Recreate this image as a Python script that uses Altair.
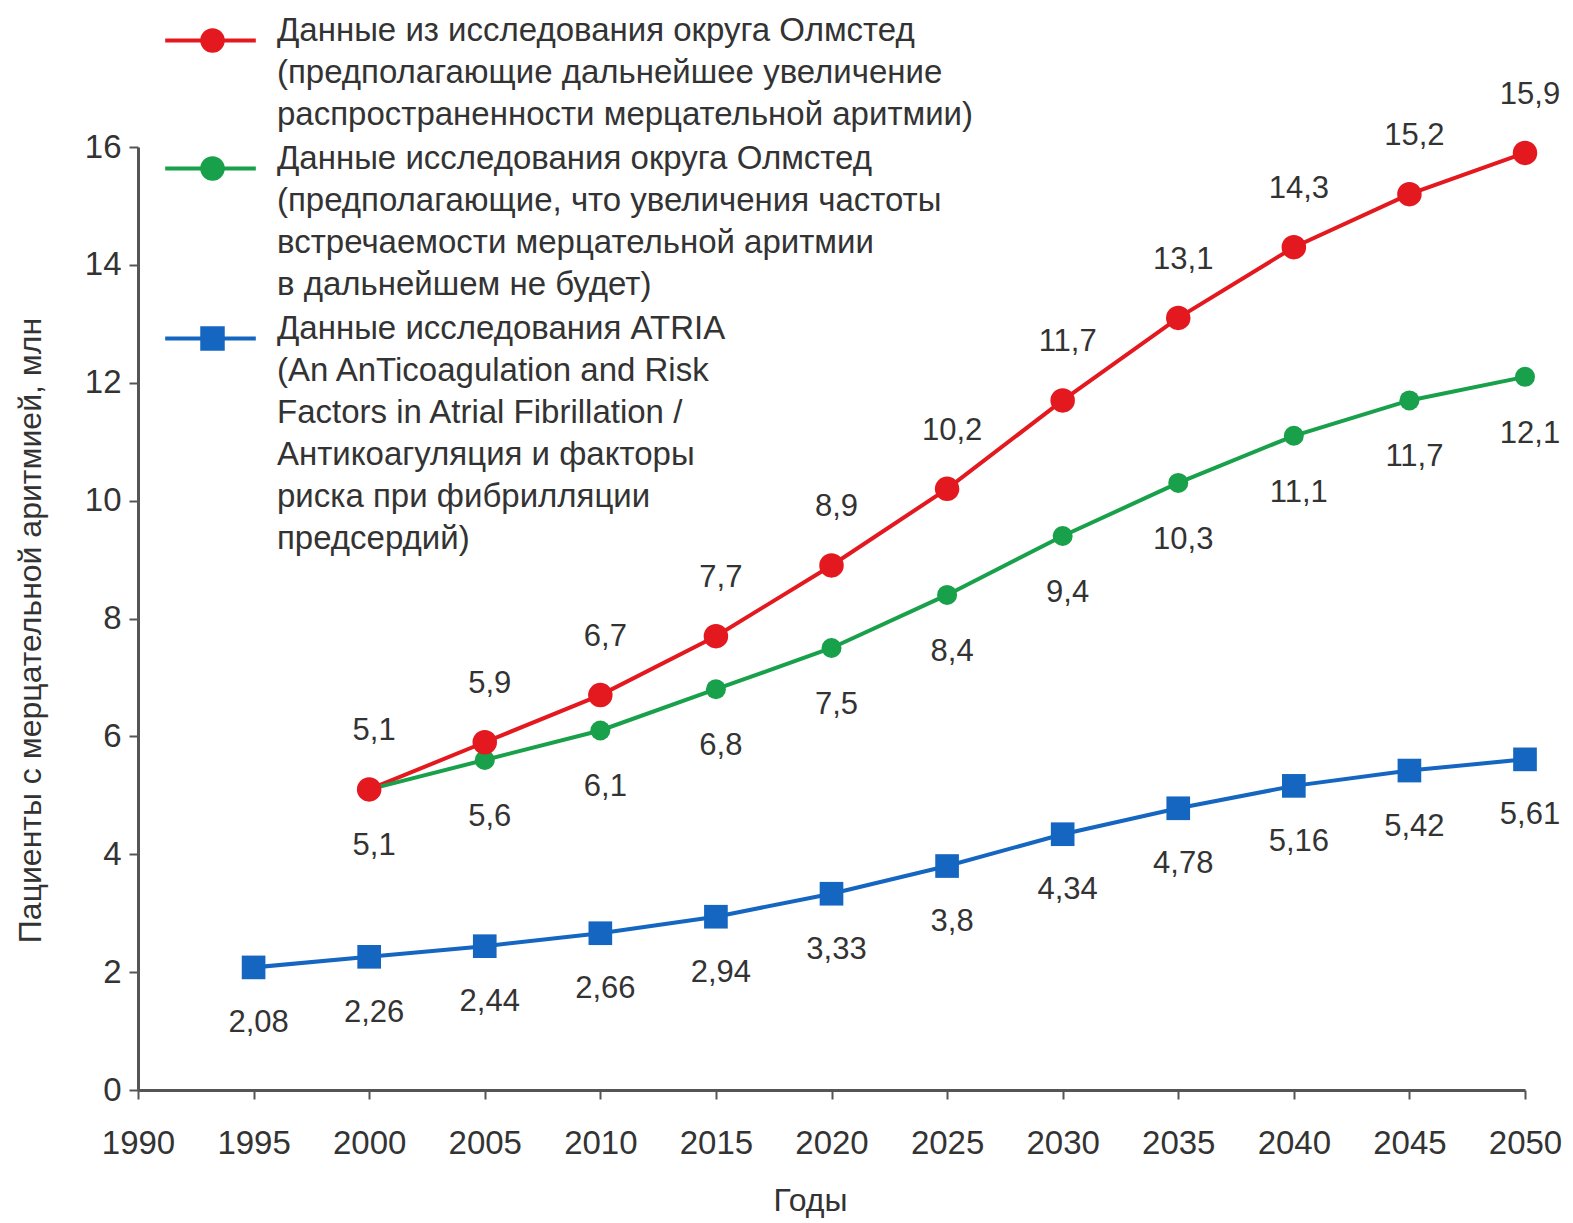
import altair as alt
import pandas as pd

# ---- data ----
years_atria = [1995, 2000, 2005, 2010, 2015, 2020, 2025, 2030, 2035, 2040, 2045, 2050]
years_olm = [2000, 2005, 2010, 2015, 2020, 2025, 2030, 2035, 2040, 2045, 2050]
olm_increase = [5.1, 5.9, 6.7, 7.7, 8.9, 10.2, 11.7, 13.1, 14.3, 15.2, 15.9]
olm_constant = [5.1, 5.6, 6.1, 6.8, 7.5, 8.4, 9.4, 10.3, 11.1, 11.7, 12.1]
atria = [2.08, 2.26, 2.44, 2.66, 2.94, 3.33, 3.8, 4.34, 4.78, 5.16, 5.42, 5.61]

# the leading "n|" only fixes the legend order; it is stripped from the labels
series_names = [
    "1|Данные из исследования округа Олмстед|(предполагающие дальнейшее увеличение|распространенности мерцательной аритмии)",
    "2|Данные исследования округа Олмстед|(предполагающие, что увеличения частоты|встречаемости мерцательной аритмии|в дальнейшем не будет)",
    "3|Данные исследования ATRIA|(An AnTicoagulation and Risk|Factors in Atrial Fibrillation /|Антикоагуляция и факторы|риска при фибрилляции|предсердий)",
]
colors = ["#e3191f", "#18a04a", "#1466c0"]
shapes = ["circle", "circle", "square"]
point_sizes = [600, 400, 560]
x_ticks = list(range(1990, 2051, 5))
y_ticks = list(range(0, 17, 2))

rows = []
for yrs, vals, name in [(years_olm, olm_increase, series_names[0]),
                        (years_olm, olm_constant, series_names[1]),
                        (years_atria, atria, series_names[2])]:
    for yr, v in zip(yrs, vals):
        rows.append({"year": yr, "value": v, "s1": name, "s2": name})
df = pd.DataFrame(rows)

FONT = "Liberation Sans, Arial, sans-serif"
TXT = "#333333"
AX = "#555555"

base = alt.Chart(df).transform_calculate(
    lab="replace(toString(datum.value), '.', ',')"
)

x = alt.X("year:Q", scale=alt.Scale(domain=[1990, 2050], nice=False, zero=False),
          axis=alt.Axis(values=x_ticks, format="d", title="Годы",
                        labelFontSize=33, labelColor=TXT, labelFont=FONT,
                        labelPadding=28, labelFlush=False,
                        tickSize=9, tickWidth=2, tickColor=AX,
                        domainColor=AX, domainWidth=3, grid=False,
                        titleFont=FONT, titleFontSize=32, titleFontWeight="normal",
                        titleColor=TXT, titleX=672, titleY=110, titleBaseline="middle"))
y = alt.Y("value:Q", scale=alt.Scale(domain=[0, 16], nice=False),
          axis=alt.Axis(values=y_ticks, title="Пациенты с мерцательной аритмией, млн",
                        labelFontSize=33, labelColor=TXT, labelFont=FONT,
                        labelPadding=8, labelFlush=False,
                        tickSize=9, tickWidth=2, tickColor=AX,
                        domainColor=AX, domainWidth=3, grid=False,
                        titleFont=FONT, titleFontSize=32, titleFontWeight="normal",
                        titleColor=TXT, titleX=-108, titleY=483, titleAngle=270,
                        titleBaseline="middle", titleAlign="center"))

label_cfg = dict(
    title=None, orient="none",
    labelFont=FONT, labelFontSize=33, labelColor=TXT, labelLimit=0,
    labelBaseline="alphabetic", padding=0, offset=0, rowPadding=10,
    legendY=-123,
)

# visible legend: coloured line + multi-line text
lines = base.mark_line(strokeWidth=4).encode(
    x=x, y=y,
    stroke=alt.Stroke("s1:N", scale=alt.Scale(range=colors),
                      legend=alt.Legend(legendX=56, labelOffset=50,
                                        labelExpr="slice(split(datum.label, '|'), 1)",
                                        symbolType="M-3.7,0H3.7", symbolSize=600,
                                        symbolStrokeWidth=4, **label_cfg)),
    detail="s1:N",
)

# marker legend laid exactly over the line legend (blank lines keep the row heights)
pt_legend = alt.Legend(legendX=58, labelOffset=17, symbolSize=600,
                       labelExpr="slice(split(replace(datum.label, regexp('[^|]+', 'g'), ' '), '|'), 1)",
                       symbolStrokeWidth=0, labelOpacity=0, **label_cfg)


def points(i):
    return base.transform_filter(alt.datum.s2 == series_names[i]).mark_point(
        filled=True, opacity=1, size=point_sizes[i]
    ).encode(
        x=x, y=y,
        color=alt.Color("s2:N", scale=alt.Scale(domain=series_names, range=colors),
                        legend=pt_legend),
        shape=alt.Shape("s2:N", scale=alt.Scale(domain=series_names, range=shapes),
                        legend=pt_legend),
    )


def labels(i, dy):
    return base.transform_filter(alt.datum.s1 == series_names[i]).mark_text(
        font=FONT, fontSize=31, color=TXT, dy=dy, dx=5
    ).encode(x=x, y=y, text="lab:N")


chart = alt.layer(
    lines, points(2), points(1), points(0),
    labels(0, -58),
    labels(1, 57),
    labels(2, 56),
).properties(
    width=1387, height=943,
    padding={"left": 138, "top": 147, "right": 48, "bottom": 133},
    autosize=alt.AutoSizeParams(type="none"),
    background="white",
).configure(
    style={"guide-label": {"lineHeight": 42}},
    view=alt.ViewConfig(stroke=None),
)

chart.save("out.html", embed_options={"renderer": "svg", "actions": False})
